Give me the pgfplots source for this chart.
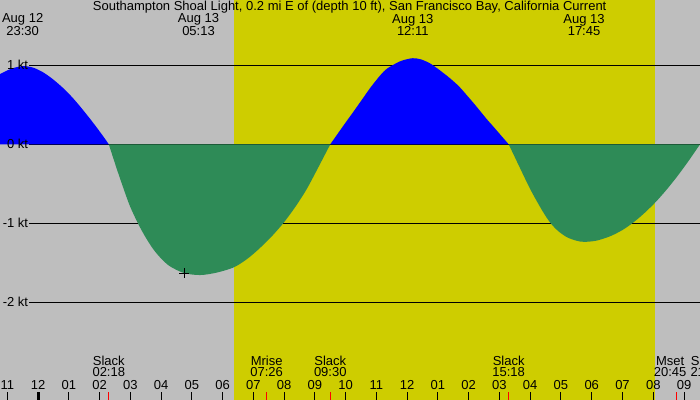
\documentclass[border=0pt]{standalone}
\usepackage{fontspec}
\setmainfont{Liberation Sans}
\usepackage{pgfplots}
\pgfplotsset{compat=1.18}

\definecolor{bggray}{RGB}{190,190,190}
\definecolor{daylight}{RGB}{206,205,0}
\definecolor{flood}{RGB}{0,0,255}
\definecolor{ebb}{RGB}{46,139,87}
\newcommand\lf{\fontsize{13bp}{11.5bp}\selectfont}
\tikzset{two/.style={anchor=south, align=center, font=\lf, inner sep=0pt}}

\begin{document}
\begin{tikzpicture}
\begin{axis}[
    width=700bp, height=400bp, scale only axis,
    xmin=-1.237, xmax=21.52, ymin=-3.237, ymax=1.827,
    axis line style={draw=none},
    axis background/.style={fill=bggray},
    axis on top,
    ytick=\empty,
    xtick={-1,0,...,21},
    xticklabels={11,12,01,02,03,04,05,06,07,08,09,10,11,12,01,02,03,04,05,06,07,08,09},
    xtick pos=left,
    tick align=inside,
    major tick length=8bp,
    minor tick length=8bp,
    tick style={black, line width=1bp},
    minor xtick={0},
    minor tick style={line width=3bp},
    extra x ticks={2.3,7.4333,9.5,15.3,20.75},
    extra x tick labels={},
    extra x tick style={tick style={red, line width=1bp}},
    xticklabel style={font=\lf, anchor=base, yshift=10.5bp, inner sep=0pt},
]

% daylight
\addplot[fill=daylight, draw=none] coordinates {(6.37,-4) (6.37,2) (20.056,2) (20.056,-4)};

% level lines
\addplot[black, line width=1bp] coordinates {(-0.285,1) (22,1)};
\addplot[black, line width=1bp] coordinates {(-0.285,0) (22,0)};
\addplot[black, line width=1bp] coordinates {(-0.285,-1) (22,-1)};
\addplot[black, line width=1bp] coordinates {(-0.285,-2) (22,-2)};

% flood / ebb
\addplot[fill=flood, draw=none, smooth] coordinates {
  (-1.237,0.89) (-0.85,0.96) (-0.48,0.99) (-0.155,0.97) (0.17,0.91) (0.495,0.82)
  (0.821,0.71) (1.146,0.58) (1.471,0.43) (1.796,0.27) (2.121,0.10) (2.30,0)
} \closedcycle;
\addplot[fill=ebb, draw=none, smooth] coordinates {
  (2.30,0) (2.55,-0.30) (2.77,-0.55) (2.99,-0.785) (3.26,-1.01) (3.5,-1.18)
  (3.75,-1.33) (4.0,-1.445) (4.29,-1.545) (4.75,-1.63) (5.27,-1.655) (5.8,-1.625)
  (6.35,-1.56) (6.75,-1.465) (7.11,-1.35) (7.55,-1.185) (7.97,-1.0) (8.35,-0.80)
  (8.73,-0.57) (9.1,-0.30) (9.5,0)
} \closedcycle;
\addplot[fill=flood, draw=none, smooth] coordinates {
  (9.5,0) (9.816,0.175) (10.035,0.295) (10.248,0.41) (10.575,0.59) (10.791,0.71)
  (11.117,0.87) (11.334,0.955) (11.659,1.03) (11.874,1.065) (12.18,1.09)
  (12.45,1.075) (12.742,1.025) (13.0,0.955) (13.285,0.87) (13.50,0.80) (13.717,0.72)
  (14.042,0.575) (14.26,0.475) (14.585,0.32) (14.80,0.225) (15.3,0)
} \closedcycle;
\addplot[fill=ebb, draw=none, smooth] coordinates {
  (15.3,0) (15.668,-0.30) (15.889,-0.48) (16.10,-0.64) (16.40,-0.845) (16.646,-0.99)
  (16.9,-1.095) (17.189,-1.175) (17.5,-1.22) (17.75,-1.235) (18.15,-1.22)
  (18.593,-1.165) (19.0,-1.085) (19.351,-0.99) (19.7,-0.875) (20.056,-0.74)
  (20.4,-0.59) (20.762,-0.415) (21.14,-0.215) (21.52,0)
} \closedcycle;

% marker
\addplot[only marks, mark=+, mark size=5bp, line width=1bp, black] coordinates {(4.754,-1.633)};

% level labels
\node[anchor=east, font=\lf, inner sep=0pt] at (axis cs:-0.317,1) {1 kt};
\node[anchor=east, font=\lf, inner sep=0pt] at (axis cs:-0.317,0) {0 kt};
\node[anchor=east, font=\lf, inner sep=0pt] at (axis cs:-0.317,-1) {-1 kt};
\node[anchor=east, font=\lf, inner sep=0pt] at (axis cs:-0.317,-2) {-2 kt};

% title and extremes
\node[anchor=base, font=\lf, inner sep=0pt] at (axis cs:10.13,1.690) {Southampton Shoal Light, 0.2 mi E of (depth 10 ft), San Francisco Bay, California Current};
\node[two] at (axis cs:-0.5,1.370) {Aug 12\\23:30};
\node[two] at (axis cs:5.217,1.370) {Aug 13\\05:13};
\node[two] at (axis cs:12.183,1.370) {Aug 13\\12:11};
\node[two] at (axis cs:17.75,1.370) {Aug 13\\17:45};

% events
\node[two] at (axis cs:2.3,-2.949) {Slack\\02:18};
\node[two] at (axis cs:7.433,-2.949) {Mrise\\07:26};
\node[two] at (axis cs:9.5,-2.949) {Slack\\09:30};
\node[two] at (axis cs:15.3,-2.949) {Slack\\15:18};
\node[two] at (axis cs:20.55,-2.949) {Mset\\20:45};
\node[two] at (axis cs:21.74,-2.949) {Slack\\21:33};
\end{axis}
\pgfresetboundingbox
\path[use as bounding box] (current axis.south west) rectangle (current axis.north east);
\end{tikzpicture}
\end{document}
